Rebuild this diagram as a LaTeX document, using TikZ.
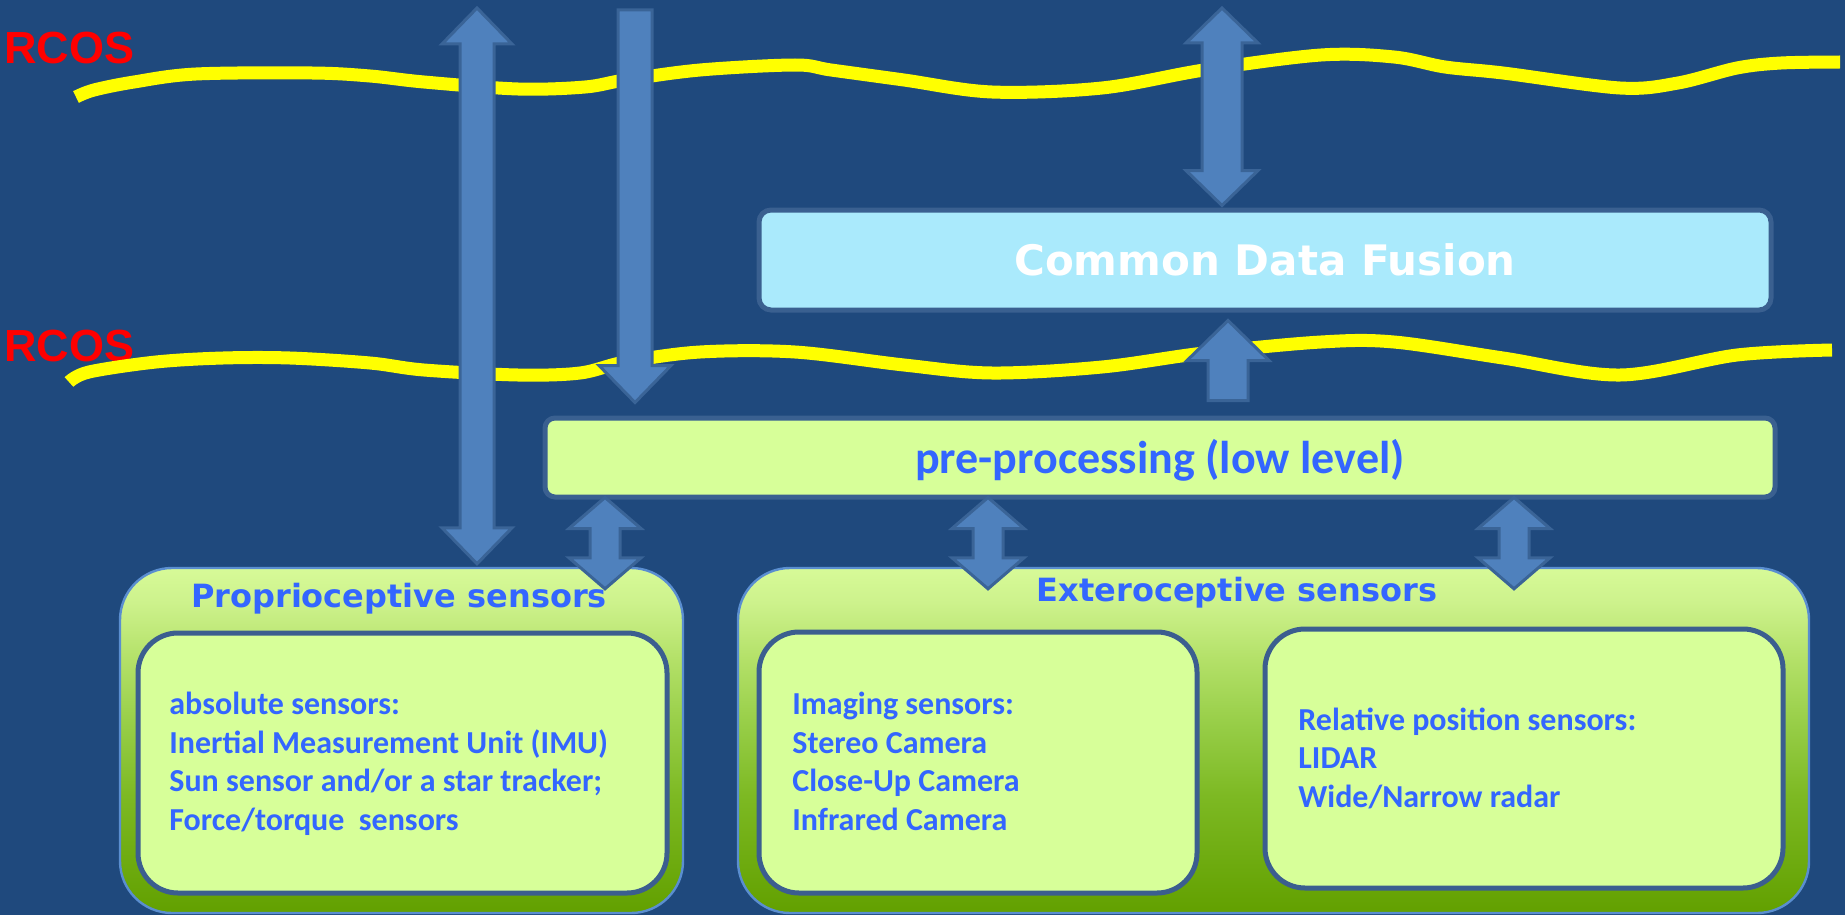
\documentclass[tikz,border=0pt]{standalone}
\usepackage{fontspec}
\setmainfont{Carlito}
\newfontfamily\widesans{DejaVu Sans}
\newfontfamily\arialsans{Liberation Sans}
\usetikzlibrary{calc}

\definecolor{bgblue}{HTML}{1F497D}
\definecolor{wavey}{HTML}{FFFF00}
\definecolor{arrowfill}{HTML}{4F81BD}
\definecolor{arrowline}{HTML}{3A6497}
\definecolor{boxline}{HTML}{3A6090}
\definecolor{innerline}{HTML}{3B5E8F}
\definecolor{outerline}{HTML}{5A8ED0}
\definecolor{cyanfill}{HTML}{AAEAFC}
\definecolor{limefill}{HTML}{D7FF99}
\definecolor{labelblue}{HTML}{3366FF}
\definecolor{gA}{RGB}{98,160,0}
\definecolor{gB}{RGB}{125,185,35}
\definecolor{gC}{RGB}{150,205,70}
\definecolor{gD}{RGB}{180,225,105}
\definecolor{gE}{RGB}{205,242,140}
\definecolor{gF}{RGB}{215,250,152}

% green-to-lime fill of the two sensor groups (25bp = bottom, 75bp = top)
\pgfdeclareverticalshading{sensorfill}{100bp}{color(0bp)=(gA); color(25bp)=(gA); color(42bp)=(gB); color(52bp)=(gC); color(62bp)=(gD); color(70bp)=(gE); color(75bp)=(gF); color(100bp)=(gF)}

% vertical block arrows: tip points, shaft half width, head half width, head length
\newcommand\dblblock[5]{%
  \draw[barrow] (#1) -- ($(#1)+(#4,#5)$) -- ($(#1)+(#3,#5)$) -- ($(#2)+(#3,-#5)$) -- ($(#2)+(#4,-#5)$) -- (#2)
    -- ($(#2)+(-#4,-#5)$) -- ($(#2)+(-#3,-#5)$) -- ($(#1)+(-#3,#5)$) -- ($(#1)+(-#4,#5)$) -- cycle;}
\newcommand\downblock[5]{%
  \draw[barrow] ($(#1)+(-#3,0)$) -- ($(#1)+(#3,0)$) -- ($(#2)+(#3,-#5)$) -- ($(#2)+(#4,-#5)$) -- (#2)
    -- ($(#2)+(-#4,-#5)$) -- ($(#2)+(-#3,-#5)$) -- cycle;}
\newcommand\upblock[5]{%
  \draw[barrow] (#1) -- ($(#1)+(#4,#5)$) -- ($(#1)+(#3,#5)$) -- ($(#2)+(#3,0)$) -- ($(#2)+(-#3,0)$)
    -- ($(#1)+(-#3,#5)$) -- ($(#1)+(-#4,#5)$) -- cycle;}

\begin{document}
\begin{tikzpicture}[x=0.5pt,y=-0.5pt,
  wave/.style={draw=wavey,line width=6.5pt},
  barrow/.style={fill=arrowfill,draw=arrowline,line width=1.5pt,line join=miter},
  cdfbox/.style={draw=boxline,fill=cyanfill,line width=2.5pt,rounded corners=6pt,
    text=white,font=\widesans\bfseries\fontsize{21pt}{25pt}\selectfont},
  prebox/.style={draw=boxline,fill=limefill,line width=2.5pt,rounded corners=5pt,
    text=labelblue,font=\bfseries\fontsize{23pt}{27pt}\selectfont},
  outerbox/.style={draw=outerline,line width=1.2pt,shade,shading=sensorfill,rounded corners=26pt},
  innerbox/.style={draw=innerline,fill=limefill,line width=2.5pt,rounded corners=20pt},
  grouptitle/.style={text=labelblue,inner sep=0pt,anchor=base,
    font=\widesans\bfseries\fontsize{16pt}{19pt}\selectfont},
  bodytext/.style={text=labelblue,inner sep=0pt,anchor=base west,align=left,
    font=\bfseries\fontsize{16pt}{19.2pt}\selectfont},
  rcostext/.style={text=red,inner sep=0pt,anchor=base west,
    font=\arialsans\bfseries\fontsize{22.5pt}{26pt}\selectfont}]

% canvas
\fill[bgblue] (0,0) rectangle (1845,915);
\useasboundingbox (0,0) rectangle (1845,915);

% communication layers
\node[rcostext] (rcosA) at (4,64) {RCOS};
\node[rcostext] (rcosB) at (4,361) {RCOS};
\draw[wave] plot[smooth,tension=0.55] coordinates {(76,97) (94,90) (134,82) (196,74) (312,73) (370,76)
  (424,82) (518,89) (585,87) (625,80) (700,70) (795,65) (831,70) (904,80) (992,92) (1102,88) (1204,70)
  (1321,55) (1394,57) (1445,67) (1503,73) (1620,88) (1678,83) (1737,68) (1781,63) (1840,62)};
\draw[wave] plot[smooth,tension=0.55] coordinates {(69,382) (89,372) (156,362) (223,358) (290,358)
  (370,363) (424,370) (518,375) (580,373) (625,362) (700,352) (795,352) (904,365) (992,373) (1102,367)
  (1204,353) (1321,342) (1394,342) (1503,358) (1620,375) (1737,355) (1832,350)};

% processing stages
\node[cdfbox,minimum width=506pt,minimum height=50pt] (cdf) at (1265,260) {Common Data Fusion};
\node[prebox,minimum width=615pt,minimum height=39.5pt,text height=20pt,text depth=4.5pt] (pre) at (1160,457.5) {pre-processing (low level)};

% sensor groups
\node[outerbox,minimum width=281.5pt,minimum height=172.5pt] (prop) at (401.5,740.5) {};
\node[outerbox,minimum width=535.5pt,minimum height=172.5pt] (ext) at (1273.5,740.5) {};
\node[innerbox,minimum width=264.5pt,minimum height=130pt] (propin) at (402.5,763) {};
\node[innerbox,minimum width=219pt,minimum height=130.5pt] (img) at (978,762.5) {};
\node[innerbox,minimum width=259pt,minimum height=129.5pt] (rel) at (1524,758.5) {};

\node[grouptitle] (proptitle) at (399,607) {Proprioceptive sensors};
\node[grouptitle] (exttitle) at (1237,601) {Exteroceptive sensors};

% multi-line labels are placed by the baseline of their last line
\node[bodytext] (proptext) at (169,830) {absolute sensors:\\Inertial Measurement Unit (IMU)\\
  Sun sensor and/or a star tracker;\\Force/torque\ \ sensors};
\node[bodytext] (imgtext) at (792,830) {Imaging sensors:\\Stereo Camera\\Close-Up Camera\\Infrared Camera};
\node[bodytext] (reltext) at (1298,807) {Relative position sensors:\\LIDAR\\Wide/Narrow radar};

% arrow end points
\coordinate (aTop) at (477,8);
\coordinate (aBot) at ($(477,0 |- prop.north)+(0,-3)$);
\coordinate (bTop) at (635,10);
\coordinate (bTip) at ($(635,0 |- pre.north)+(0,-13)$);
\coordinate (cTop) at (1222,8);
\coordinate (cBot) at ($(1222,0 |- cdf.north)+(0,-2)$);
\coordinate (dTip) at ($(1228,0 |- cdf.south)+(0,8)$);
\coordinate (dBot) at ($(1228,0 |- pre.north)+(0,-15)$);
\coordinate (e1T) at ($(605,0 |- pre.south)+(0,-2)$);
\coordinate (e1B) at ($(605,0 |- prop.north)+(0,22)$);
\coordinate (e2T) at ($(988,0 |- pre.south)+(0,-2)$);
\coordinate (e2B) at ($(988,0 |- ext.north)+(0,22)$);
\coordinate (e3T) at ($(1514,0 |- pre.south)+(0,-2)$);
\coordinate (e3B) at ($(1514,0 |- ext.north)+(0,22)$);

% data flow
\dblblock{aTop}{aBot}{17}{35}{36}
\downblock{bTop}{bTip}{17}{36}{37}
\dblblock{cTop}{cBot}{20}{36}{35}
\upblock{dTip}{dBot}{20}{41}{40}
\dblblock{e1T}{e1B}{15}{36}{31}
\dblblock{e2T}{e2B}{15}{36}{31}
\dblblock{e3T}{e3B}{15}{36}{31}
\end{tikzpicture}
\end{document}
